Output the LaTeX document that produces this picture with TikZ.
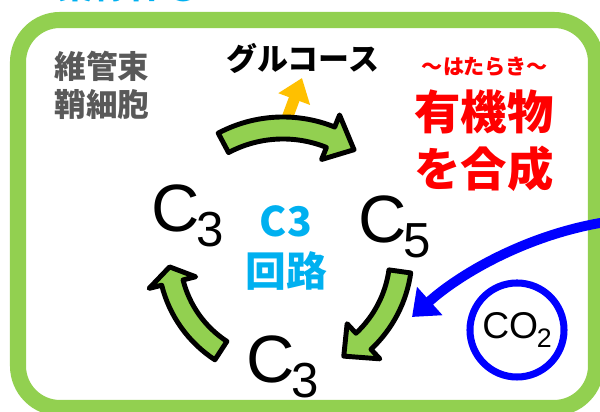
\documentclass[tikz,border=0pt]{standalone}
\usepackage{fontspec}
\setmainfont{Liberation Sans}
\newfontfamily\jpfont{Noto Sans CJK JP}
\usepackage{tikz}
\usetikzlibrary{shapes,arrows,arrows.meta}
\usetikzlibrary{positioning}

\definecolor{leafgreen}{HTML}{92D050}
\definecolor{sugarorange}{HTML}{FFC000}
\definecolor{cyclecyan}{HTML}{00B0F0}
\definecolor{labelgray}{HTML}{595959}
\definecolor{workred}{HTML}{FF0000}
\definecolor{co2blue}{HTML}{0000FF}

% curved block arrow: start angle, head base angle, tip angle, radius
\newcommand{\greenarc}[4]{%
  \draw[cyclearrow] (#1:#4+11) arc[start angle=#1, end angle=#2, radius=#4+11]
    -- (#2:#4+24) -- (#3:#4) -- (#2:#4-24) -- (#2:#4-11)
    arc[start angle=#2, end angle=#1, radius=#4-11] -- cycle;}
\newcommand{\carbon}[1]{C\kern-2pt{\fontsize{35}{35}\selectfont\raisebox{-10.5pt}{#1}}}

\begin{document}
\begin{tikzpicture}[x=0.025cm,y=0.025cm,
    cyclearrow/.style={fill=leafgreen,draw=black,line width=3.5pt,line join=round},
    carbonlabel/.style={anchor=base west,inner sep=0pt,font=\fontsize{47.6}{48}\selectfont},
    jptext/.style={align=center,inner sep=0pt,font=\jpfont\bfseries#1}]
\clip (0,0) rectangle (600,412);
\node[jptext={\fontsize{25.6}{26}\selectfont},text=cyclecyan,anchor=base west] (title) at (57,413) {葉緑体②};
\draw[leafgreen,line width=11.4pt,rounded corners=1.05cm] (18,392) rectangle (596,4);

\node[jptext={\fontsize{22.5}{27}\selectfont},text=labelgray] (cell) at (102,327) {維管束\\鞘細胞};
\node[jptext={\fontsize{22}{22}\selectfont}] (gluc) at (303,354) {グルコース};
\node[jptext={\fontsize{15}{15}\selectfont},text=workred] (work) at (485,345) {〜はたらき〜};
\node[jptext={\fontsize{33}{40.5}\selectfont},text=workred] (organic) at (484,271) {有機物\\を合成};
\node[jptext={\fontsize{29}{36}\selectfont},text=cyclecyan] (cycle) at (286,164) {C3\\回路};

%\draw[help lines] (0,0) grid[step=50] (600,412);
\draw[sugarorange,line width=8pt,-{Triangle[length=16pt,width=23pt]}] (282,280) -- (302,334);

\begin{scope}[shift={(283,157)}]
\greenarc{118}{68}{56}{127}
\greenarc{-8}{-47}{-59}{118}
\greenarc{237}{194}{186}{114}
\end{scope}

\node[carbonlabel] (cthreeL) at (151,180) {\carbon{3}};
\node[carbonlabel] (cfive) at (358,169) {\carbon{5}};
\node[carbonlabel] (cthreeB) at (246,29) {\carbon{3}};

\node[circle,draw=co2blue,line width=5pt,minimum size=2.35cm,inner sep=0pt,
  font=\fontsize{26.5}{27}\selectfont] (co2) at (517,82)
  {CO\kern-1pt{\fontsize{19}{19}\selectfont\raisebox{-6.5pt}{2}}};
\coordinate (co2in) at (606,190);
\coordinate (co2fix) at (412,95);
\draw[co2blue,line width=7pt,-{Triangle[length=17pt,width=26pt]}]
  (co2in) .. controls (530,178) and (462,140) .. (co2fix);
\end{tikzpicture}
\end{document}
